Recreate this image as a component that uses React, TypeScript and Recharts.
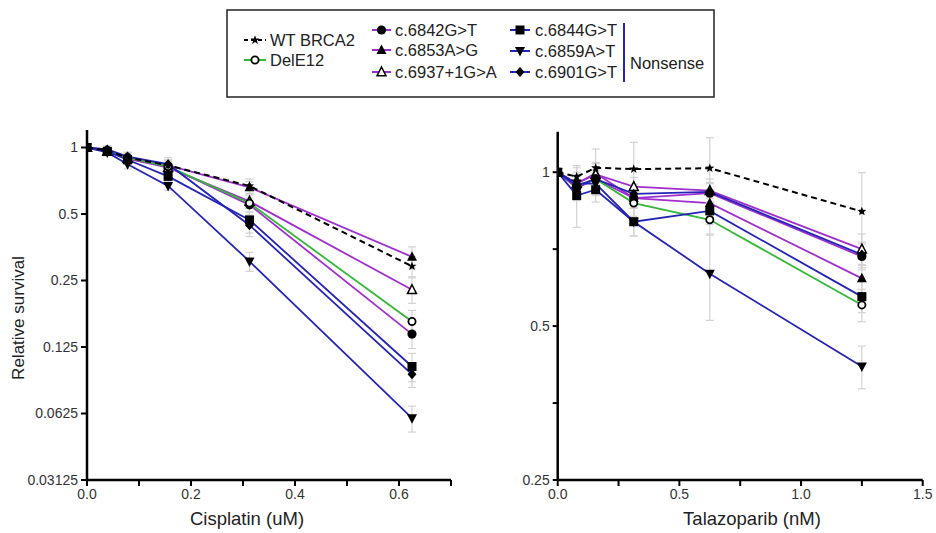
import React from 'react'
import { LineChart, Line, XAxis, YAxis, ErrorBar } from 'recharts'

const FONT = '"Liberation Sans", Arial, sans-serif'

// doses
const cisDoses = [0, 0.039, 0.078, 0.156, 0.3125, 0.625]
const talDoses = [0, 0.078, 0.156, 0.3125, 0.625, 1.25]

// cisplatin – relative survival
const cisWT = [1, 0.97, 0.9, 0.83, 0.67, 0.29]
const cisDelE12 = [1, 0.97, 0.9, 0.82, 0.56, 0.163]
const cis6842 = [1, 0.96, 0.89, 0.82, 0.55, 0.143]
const cis6853 = [1, 0.97, 0.9, 0.83, 0.66, 0.32]
const cis6937 = [1, 0.96, 0.89, 0.81, 0.57, 0.227]
const cis6844 = [1, 0.96, 0.88, 0.74, 0.47, 0.102]
const cis6859 = [1, 0.95, 0.84, 0.67, 0.305, 0.0595]
const cis6901 = [1, 0.98, 0.91, 0.84, 0.445, 0.094]

// cisplatin – error (±)
const cisWTErr = [0, 0.04, 0.05, 0.07, 0.05, 0.03]
const cisDelE12Err = [0, 0.05, 0.04, 0.05, 0.05, 0.02]
const cis6842Err = [0, 0.04, 0.04, 0.04, 0.04, 0.02]
const cis6853Err = [0, 0.03, 0.05, 0.05, 0.04, 0.035]
const cis6937Err = [0, 0.03, 0.04, 0.04, 0.04, 0.03]
const cis6844Err = [0, 0.03, 0.04, 0.05, 0.06, 0.015]
const cis6859Err = [0, 0.03, 0.04, 0.03, 0.03, 0.008]
const cis6901Err = [0, 0.03, 0.04, 0.04, 0.05, 0.012]

// talazoparib – relative survival
const talWT = [1, 0.98, 1.02, 1.014, 1.018, 0.838]
const talDelE12 = [1, 0.94, 0.97, 0.87, 0.807, 0.55]
const tal6842 = [1, 0.93, 0.97, 0.89, 0.91, 0.684]
const tal6853 = [1, 0.95, 0.995, 0.89, 0.87, 0.62]
const tal6937 = [1, 0.95, 0.99, 0.937, 0.92, 0.707]
const tal6844 = [1, 0.9, 0.924, 0.8, 0.84, 0.571]
const tal6859 = [1, 0.95, 0.95, 0.8, 0.633, 0.417]
const tal6901 = [1, 0.94, 0.97, 0.907, 0.915, 0.69]

// talazoparib – error (±)
const talWTErr = [0, 0.05, 0.09, 0.13, 0.15, 0.16]
const talDelE12Err = [0, 0.04, 0.04, 0.05, 0.05, 0.04]
const tal6842Err = [0, 0.05, 0.04, 0.04, 0.04, 0.04]
const tal6853Err = [0, 0.05, 0.05, 0.04, 0.04, 0.04]
const tal6937Err = [0, 0.04, 0.05, 0.04, 0.05, 0.05]
const tal6844Err = [0, 0.12, 0.05, 0.05, 0.05, 0.04]
const tal6859Err = [0, 0.04, 0.05, 0.05, 0.12, 0.04]
const tal6901Err = [0, 0.04, 0.04, 0.04, 0.04, 0.04]

// axis ticks
const cisXTicks = [0, 0.1, 0.2, 0.3, 0.4, 0.5, 0.6, 0.7]
const cisXLabels = [0, 0.2, 0.4, 0.6]
const cisYTicks = [0.03125, 0.0625, 0.125, 0.25, 0.5, 1]
const talXTicks = [0, 0.25, 0.5, 0.75, 1, 1.25, 1.5]
const talXLabels = [0, 0.5, 1, 1.5]
const talYTicks = [0.25, 0.35355, 0.5, 0.70711, 1]
const talYLabels = [0.25, 0.5, 1]

const PURPLE = '#a12fcf'
const BLUE = '#2424b8'
const GREEN = '#35b83a'

type Shape = 'star' | 'openCircle' | 'circle' | 'triangle' | 'openTriangle' | 'square' | 'downTriangle' | 'diamond'

const series: { key: string; name: string; color: string; shape: Shape; dashed?: boolean }[] = [
  { key: 'c6853', name: 'c.6853A>G', color: PURPLE, shape: 'triangle' },
  { key: 'c6937', name: 'c.6937+1G>A', color: PURPLE, shape: 'openTriangle' },
  { key: 'c6842', name: 'c.6842G>T', color: PURPLE, shape: 'circle' },
  { key: 'delE12', name: 'DelE12', color: GREEN, shape: 'openCircle' },
  { key: 'c6844', name: 'c.6844G>T', color: BLUE, shape: 'square' },
  { key: 'c6901', name: 'c.6901G>T', color: BLUE, shape: 'diamond' },
  { key: 'c6859', name: 'c.6859A>T', color: BLUE, shape: 'downTriangle' },
  { key: 'wt', name: 'WT BRCA2', color: '#000', shape: 'star', dashed: true },
]

function buildRows(doses: number[], vals: Record<string, number[]>, errs: Record<string, number[]>) {
  return doses.map((x, i) => {
    const row: Record<string, number> = { x }
    Object.keys(vals).forEach((k) => {
      row[k] = vals[k][i]
      row[k + 'Err'] = errs[k][i]
    })
    return row
  })
}

const cisRows = buildRows(
  cisDoses,
  { wt: cisWT, delE12: cisDelE12, c6842: cis6842, c6853: cis6853, c6937: cis6937, c6844: cis6844, c6859: cis6859, c6901: cis6901 },
  { wt: cisWTErr, delE12: cisDelE12Err, c6842: cis6842Err, c6853: cis6853Err, c6937: cis6937Err, c6844: cis6844Err, c6859: cis6859Err, c6901: cis6901Err }
)

const talRows = buildRows(
  talDoses,
  { wt: talWT, delE12: talDelE12, c6842: tal6842, c6853: tal6853, c6937: tal6937, c6844: tal6844, c6859: tal6859, c6901: tal6901 },
  { wt: talWTErr, delE12: talDelE12Err, c6842: tal6842Err, c6853: tal6853Err, c6937: tal6937Err, c6844: tal6844Err, c6859: tal6859Err, c6901: tal6901Err }
)

function Marker({ shape, cx, cy }: { shape: Shape; cx: number; cy: number }) {
  if (cx == null || cy == null) return null
  switch (shape) {
    case 'star': {
      const pts = []
      for (let i = 0; i < 10; i++) {
        const a = (-90 + i * 36) * (Math.PI / 180)
        const r = i % 2 ? 2 : 4.8
        pts.push(`${cx + r * Math.cos(a)},${cy + r * Math.sin(a)}`)
      }
      return <polygon points={pts.join(' ')} fill="#000" />
    }
    case 'circle':
      return <circle cx={cx} cy={cy} r={4.6} fill="#000" />
    case 'openCircle':
      return <circle cx={cx} cy={cy} r={3.6} fill="#fff" stroke="#000" strokeWidth={1.8} />
    case 'triangle':
      return <polygon points={`${cx},${cy - 5.5} ${cx + 5},${cy + 4} ${cx - 5},${cy + 4}`} fill="#000" />
    case 'openTriangle':
      return (
        <polygon
          points={`${cx},${cy - 5} ${cx + 4.5},${cy + 3.8} ${cx - 4.5},${cy + 3.8}`}
          fill="#fff"
          stroke="#000"
          strokeWidth={1.5}
        />
      )
    case 'square':
      return <rect x={cx - 4.5} y={cy - 4.5} width={9} height={9} fill="#000" />
    case 'downTriangle':
      return <polygon points={`${cx},${cy + 5.5} ${cx + 5},${cy - 4} ${cx - 5},${cy - 4}`} fill="#000" />
    case 'diamond':
      return <polygon points={`${cx},${cy - 5} ${cx + 4.5},${cy} ${cx},${cy + 5} ${cx - 4.5},${cy}`} fill="#000" />
  }
  return null
}

const dotFor = (shape: Shape) => (p: any) => <Marker key={`${shape}-${p.index}`} shape={shape} cx={p.cx} cy={p.cy} />

const near = (list: number[], v: number) => list.some((l) => Math.abs(l - v) < 1e-6)

const tickStyle = { fontSize: 14, fill: '#333', fontFamily: FONT }
const axisLine = { stroke: '#000', strokeWidth: 2.5 }
const tickLine = { stroke: '#000', strokeWidth: 2 }

type PanelProps = {
  rows: Record<string, number>[]
  left: number
  width: number
  margin: { top: number; right: number; left: number; bottom: number }
  xDomain: [number, number]
  xTicks: number[]
  xLabels: number[]
  xTitle: string
  xTitleX: number
  yDomain: [number, number]
  yTicks: number[]
  yFormat: (v: number) => string
  yTitle?: string
  yTickSize: number
}

function Panel(props: PanelProps) {
  const { rows, margin } = props
  return (
    <div style={{ position: 'absolute', left: props.left, top: 120 }}>
      <LineChart width={props.width} height={413} data={rows} margin={margin}>
        <XAxis
          dataKey="x"
          type="number"
          domain={props.xDomain}
          ticks={props.xTicks}
          interval={0}
          allowDataOverflow
          tickFormatter={(v: number) => (near(props.xLabels, v) ? v.toFixed(1) : '')}
          tick={tickStyle}
          axisLine={axisLine}
          tickLine={tickLine}
          tickSize={6}
          tickMargin={3}
          height={50}
          label={() => (
            <text x={props.xTitleX} y={398} textAnchor="middle" dominantBaseline="central" fontSize={18.5} fill="#222" fontFamily={FONT}>
              {props.xTitle}
            </text>
          )}
        />
        <YAxis
          type="number"
          scale="log"
          domain={props.yDomain}
          ticks={props.yTicks}
          interval={0}
          allowDataOverflow
          tickFormatter={props.yFormat}
          tick={tickStyle}
          axisLine={axisLine}
          tickLine={tickLine}
          tickSize={props.yTickSize}
          tickMargin={3}
          width={60}
          label={
            props.yTitle
              ? () => (
                  <text
                    x={18}
                    y={198}
                    transform="rotate(-90 18 198)"
                    textAnchor="middle"
                    dominantBaseline="central"
                    fontSize={17}
                    fill="#222"
                    fontFamily={FONT}
                  >
                    {props.yTitle}
                  </text>
                )
              : undefined
          }
        />
        {series.map((s) => (
          <Line
            key={s.key}
            dataKey={s.key}
            name={s.name}
            stroke={s.color}
            strokeWidth={s.dashed ? 2 : 1.8}
            strokeDasharray={s.dashed ? '6 4' : undefined}
            dot={dotFor(s.shape)}
            activeDot={false}
            isAnimationActive={false}
          >
            <ErrorBar dataKey={s.key + 'Err'} direction="y" width={4} stroke="#d2d2d2" strokeWidth={1.2} />
          </Line>
        ))}
      </LineChart>
    </div>
  )
}

function LegendBox() {
  const seg = (x1: number, x2: number, y: number, color: string, shape: Shape, dashed?: boolean) => (
    <g>
      <line x1={x1} x2={x2} y1={y} y2={y} stroke={color} strokeWidth={2} strokeDasharray={dashed ? '4 3' : undefined} />
      <Marker shape={shape} cx={(x1 + x2) / 2} cy={y} />
    </g>
  )
  const label = (x: number, y: number, t: string) => (
    <text x={x} y={y} dominantBaseline="central" fontSize={16.5} fill="#222" fontFamily={FONT}>
      {t}
    </text>
  )
  return (
    <svg width={936} height={110} style={{ position: 'absolute', left: 0, top: 0 }}>
      <rect x={227} y={10} width={487} height={87} fill="#fff" stroke="#222" strokeWidth={1.5} />
      {seg(244, 266, 40, '#000', 'star', true)}
      {label(270, 40, 'WT BRCA2')}
      {seg(244, 266, 60, GREEN, 'openCircle')}
      {label(270, 60, 'DelE12')}
      {seg(372, 391, 30, PURPLE, 'circle')}
      {label(395, 30, 'c.6842G>T')}
      {seg(372, 391, 50, PURPLE, 'triangle')}
      {label(395, 50, 'c.6853A>G')}
      {seg(372, 391, 72, PURPLE, 'openTriangle')}
      {label(395, 72, 'c.6937+1G>A')}
      {seg(510, 530, 30, BLUE, 'square')}
      {label(535, 30, 'c.6844G>T')}
      {seg(510, 530, 51, BLUE, 'downTriangle')}
      {label(535, 51, 'c.6859A>T')}
      {seg(510, 530, 72, BLUE, 'diamond')}
      {label(535, 72, 'c.6901G>T')}
      <line x1={624} x2={624} y1={23} y2={82} stroke={BLUE} strokeWidth={2} />
      {label(630, 63, 'Nonsense')}
    </svg>
  )
}

export default function App() {
  return (
    <div style={{ position: 'absolute', left: 0, top: 0, width: 936, height: 533, background: '#fff', fontFamily: FONT }}>
      <LegendBox />
      <Panel
        rows={cisRows}
        left={0}
        width={470}
        margin={{ top: 10, right: 19, left: 27, bottom: 3 }}
        xDomain={[0, 0.7]}
        xTicks={cisXTicks}
        xLabels={cisXLabels}
        xTitle="Cisplatin (uM)"
        xTitleX={247}
        yDomain={[0.03125, 1.2]}
        yTicks={cisYTicks}
        yFormat={(v: number) => String(v)}
        yTitle="Relative survival"
        yTickSize={6}
      />
      <Panel
        rows={talRows}
        left={470}
        width={466}
        margin={{ top: 11.7, right: 13.3, left: 27.7, bottom: 3 }}
        xDomain={[0, 1.5]}
        xTicks={talXTicks}
        xLabels={talXLabels}
        xTitle="Talazoparib (nM)"
        xTitleX={282}
        yDomain={[0.25, 1.2]}
        yTicks={talYTicks}
        yFormat={(v: number) => (near(talYLabels, v) ? String(v) : '')}
        yTickSize={5}
      />
    </div>
  )
}
